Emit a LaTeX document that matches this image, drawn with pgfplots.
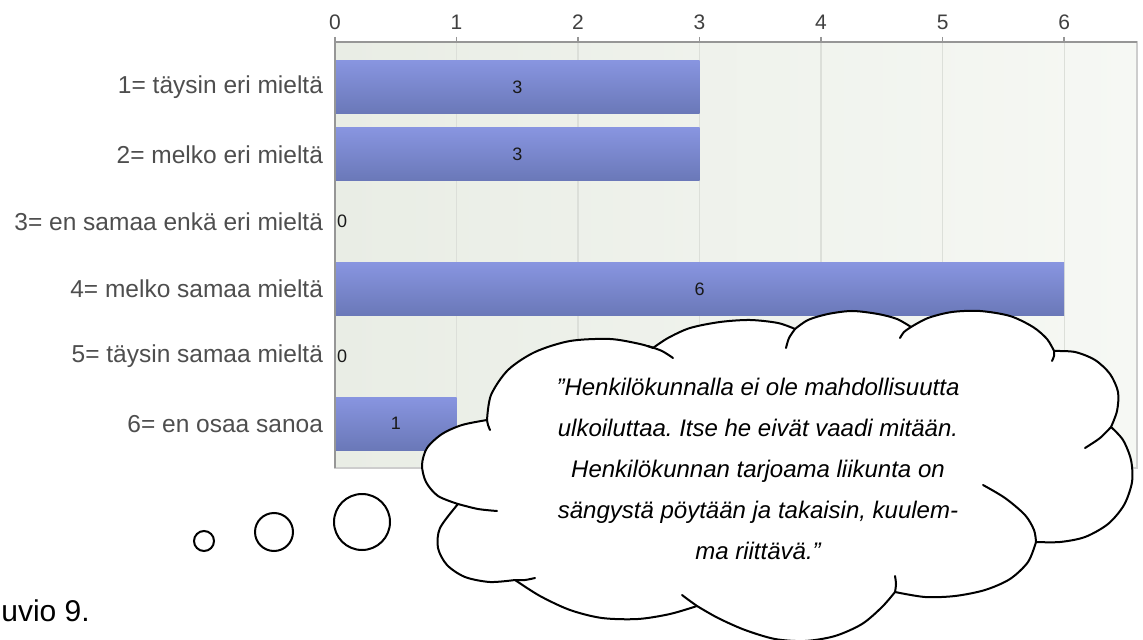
\documentclass[border=0pt]{standalone}
\usepackage{fontspec}
\setmainfont{Liberation Sans}
\usepackage{pgfplots}
\pgfplotsset{compat=1.18}
\definecolor{bartop}{RGB}{136,149,224}
\definecolor{barbot}{RGB}{106,120,184}
\definecolor{bgleft}{RGB}{233,237,229}
\definecolor{bgright}{RGB}{246,248,244}
\definecolor{gridc}{RGB}{220,223,217}
\definecolor{axisc}{RGB}{150,150,150}
\definecolor{framec}{RGB}{205,205,205}
\definecolor{labc}{RGB}{78,78,78}
\pgfplotsset{onebar/.style={xbar, bar width=26.5pt, bar shift=0pt, draw=none, top color=bartop, bottom color=barbot}}
\begin{document}
\frenchspacing
\begin{tikzpicture}
\begin{axis}[
  at={(167.5pt,-21pt)}, anchor=north west,
  scale only axis, width=401pt, height=213pt,
  xmin=0, xmax=6.6, ymin=0.33, ymax=6.66, y dir=reverse,
  enlargelimits=false,
  xtick={0,1,2,3,4,5,6}, xtick pos=top, xticklabel pos=top,
  tick align=outside, major tick length=2.5pt,
  ytick={1,2,3,4,5,6},
  yticklabels={1= täysin eri mieltä, 2= melko eri mieltä, 3= en samaa enkä eri mieltä, 4= melko samaa mieltä, 5= täysin samaa mieltä, 6= en osaa sanoa},
  ytick style={draw=none},
  xtick style={axisc, line width=0.8pt},
  xmajorgrids, grid style={gridc, line width=0.6pt},
  axis line style={framec, line width=0.6pt},
  axis background/.style={left color=bgleft, right color=bgright},
  /pgf/number format/assume math mode=true,
  xticklabel style={font=\fontsize{10.5pt}{12pt}\selectfont, text=black!75},
  yticklabel style={font=\fontsize{12.25pt}{14pt}\selectfont, text=labc},
  clip=false,
]
\addplot[onebar] coordinates {(3,1)};
\addplot[onebar] coordinates {(3,2)};
\addplot[onebar] coordinates {(0,3)};
\addplot[onebar] coordinates {(6,4)};
\addplot[onebar] coordinates {(0,5)};
\addplot[onebar] coordinates {(1,6)};
\addplot[draw=none, mark=none, nodes near coords, point meta=explicit symbolic,
  nodes near coords style={anchor=center, inner sep=0pt, font=\fontsize{9pt}{10pt}\selectfont, text=black!90}]
  table[meta=lab] {
x y lab
1.5 1 3
1.5 2 3
0.058 3 0
3.0 4 6
0.058 5 0
0.5 6 1
};
\draw[axisc, line width=1pt] (axis description cs:0,0) -- (axis description cs:0,1) -- (axis description cs:1,1);
\end{axis}
\begin{scope}[x=0.5pt,y=-0.5pt]
% thought bubbles
\filldraw[fill=white, draw=black, line width=1pt] (204,541) circle[radius=5pt];
\filldraw[fill=white, draw=black, line width=1pt] (274,532) circle[radius=9.5pt];
\filldraw[fill=white, draw=black, line width=1pt] (362,522) circle[radius=14pt];
% cloud
\filldraw[fill=white, draw=black, line width=1pt, line join=round]
  plot[smooth] coordinates {(487,420) (491,395) (508,370) (535,352) (570,341) (610,339) (640,344) (653,348)}
  -- plot[smooth] coordinates {(653,348) (668,338) (690,328) (720,322) (750,320) (778,323) (795,329)}
  -- plot[smooth] coordinates {(795,329) (808,320) (828,314) (852,311) (878,314) (897,319) (911,327)}
  -- plot[smooth] coordinates {(911,327) (928,318) (952,312) (980,311) (1010,316) (1033,327) (1047,339) (1054,351)}
  -- plot[smooth] coordinates {(1054,351) (1075,352) (1095,360) (1110,374) (1118,392) (1117,411) (1111,427)}
  -- plot[smooth] coordinates {(1111,427) (1123,440) (1131,460) (1132,482) (1124,505) (1108,524) (1085,537) (1060,542) (1036,542)}
  -- plot[smooth] coordinates {(1036,542) (1028,562) (1010,579) (985,590) (955,596) (925,597) (895,592)}
  -- plot[smooth] coordinates {(895,592) (882,607) (862,624) (835,636) (805,641) (775,639) (745,630) (718,618) (697,606)}
  -- plot[smooth] coordinates {(697,606) (670,614) (638,619) (602,618) (570,610) (540,596) (515,580)}
  -- plot[smooth] coordinates {(515,580) (490,582) (465,577) (447,565) (438,548) (440,528) (458,504)}
  -- plot[smooth] coordinates {(458,504) (438,496) (426,482) (422,465) (427,448) (442,434) (462,425) (487,420)}
  -- cycle;
% inner strokes of the cloud
\begin{scope}[line width=1pt, line cap=round]
\draw plot[smooth] coordinates {(648,346) (662,351) (673,358)};
\draw plot[smooth] coordinates {(786,348) (789,338) (795,329)};
\draw plot[smooth] coordinates {(900,338) (904,332) (911,327)};
\draw plot[smooth] coordinates {(1054,351) (1054,356) (1052,361)};
\draw plot[smooth] coordinates {(1111,427) (1100,438) (1085,448)};
\draw plot[smooth] coordinates {(983,485) (1005,498) (1025,515) (1034,530) (1036,542)};
\draw plot[smooth] coordinates {(895,592) (896,584) (895,576)};
\draw plot[smooth] coordinates {(682,595) (690,601) (697,606)};
\draw plot[smooth] coordinates {(515,580) (525,580) (535,578)};
\draw plot[smooth] coordinates {(458,504) (478,509) (497,511)};
\draw plot[smooth] coordinates {(487,420) (488,425) (490,430)};
\end{scope}
% cloud text
\begin{scope}[every node/.style={anchor=base, inner sep=0pt, font=\itshape\fontsize{12pt}{14pt}\selectfont}]
\node at (758,395) {”Henkilökunnalla ei ole mahdollisuutta};
\node at (758,436) {ulkoiluttaa. Itse he eivät vaadi mitään.};
\node at (758,477) {Henkilökunnan tarjoama liikunta on};
\node at (758,518) {sängystä pöytään ja takaisin, kuulem-};
\node at (758,559) {ma riittävä.”};
\end{scope}
% caption fragment
\node[anchor=base west, inner sep=0pt, font=\fontsize{15pt}{18pt}\selectfont] at (1,621) {uvio 9.};
\end{scope}
\pgfresetboundingbox
\path[use as bounding box] (0pt,0pt) rectangle (571.5pt,-320pt);
\end{tikzpicture}
\end{document}
